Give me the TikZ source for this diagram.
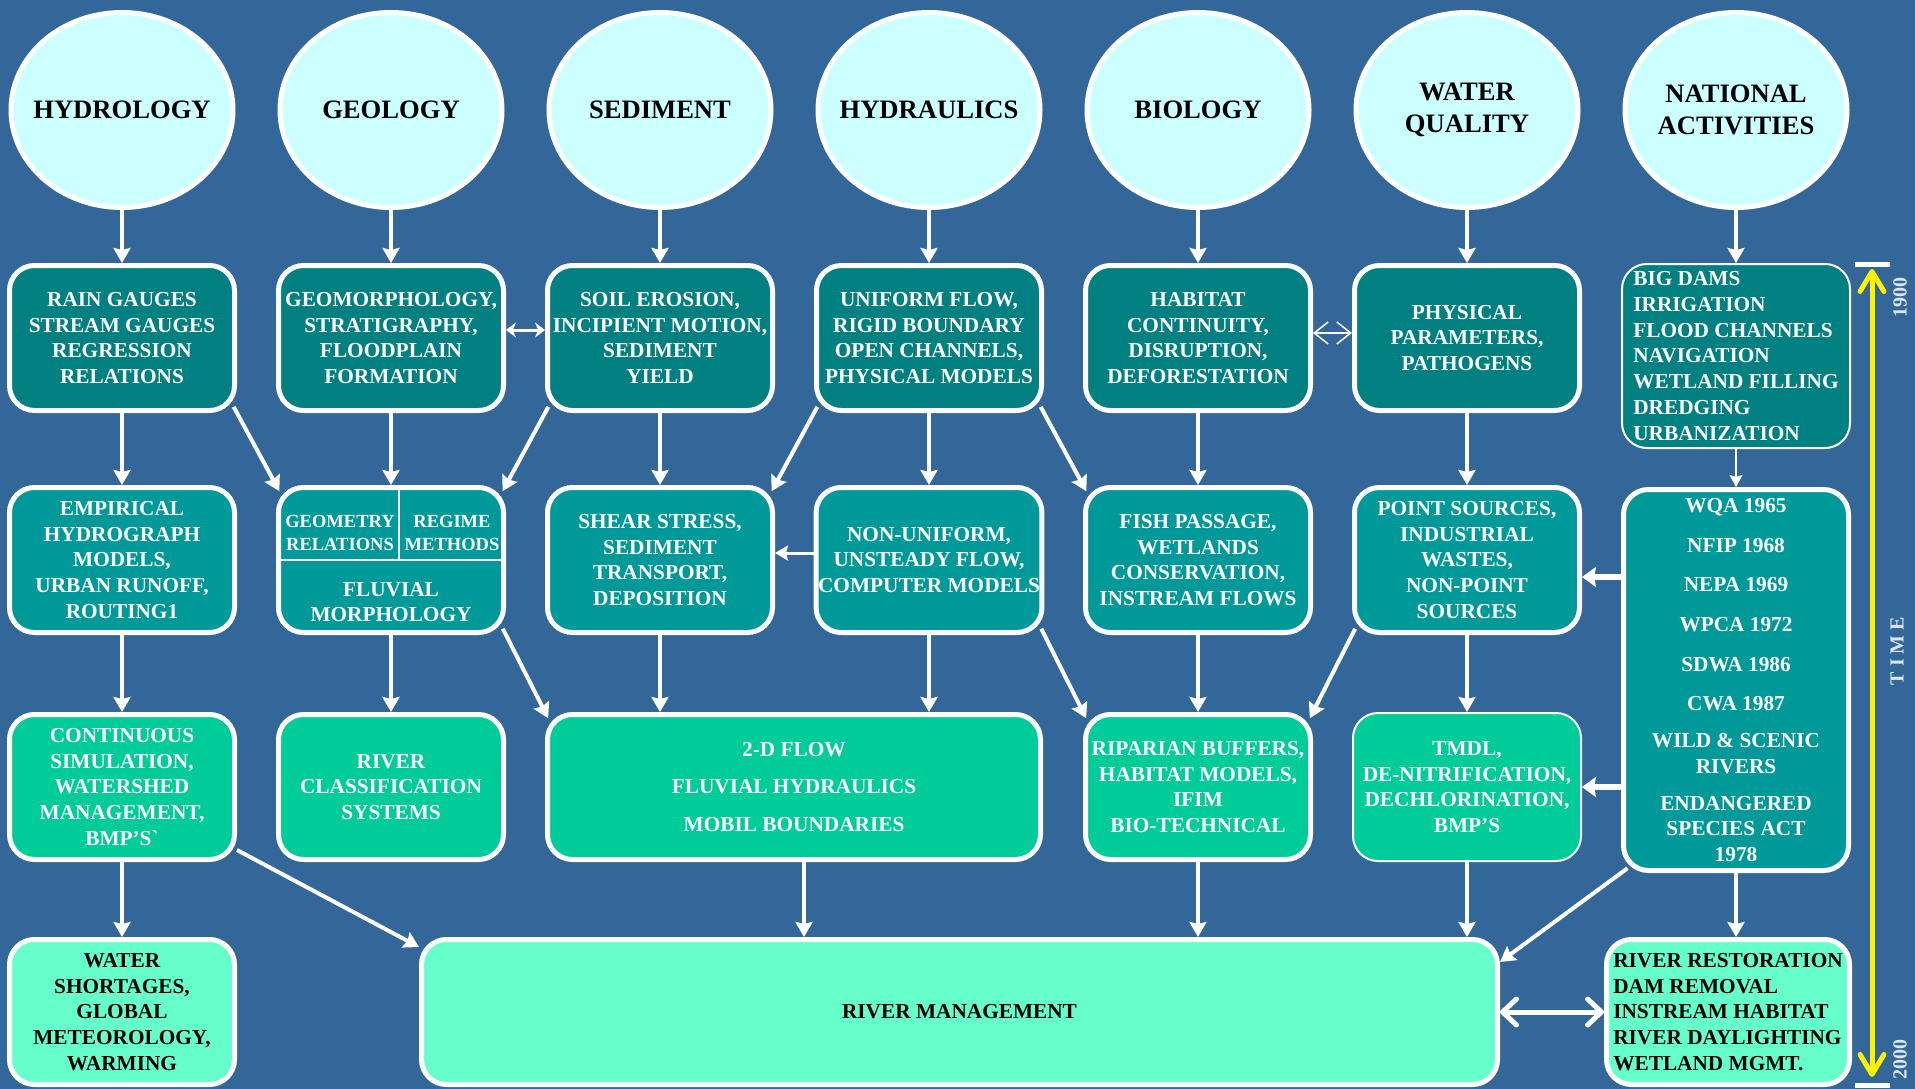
\documentclass[tikz,border=0pt]{standalone}
\usepackage{fontspec}
\setmainfont{Liberation Serif}
\usepackage{tikz}
\usetikzlibrary{positioning,arrows.meta,calc,shapes.geometric}
\definecolor{bgblue}{HTML}{336699}
\definecolor{lcyan}{HTML}{CCFFFF}
\definecolor{tealA}{HTML}{008080}
\definecolor{tealB}{HTML}{009999}
\definecolor{greenC}{HTML}{00CC99}
\definecolor{mintD}{HTML}{66FFCC}
\definecolor{paleblue}{HTML}{DCE6F2}

\begin{document}
\begin{tikzpicture}[x=1pt,y=-1pt,font=\bfseries\fontsize{21.3}{25.7}\selectfont,
  disc/.style={ellipse,draw=white,line width=5pt,fill=lcyan,minimum width=222pt,minimum height=195pt,inner xsep=-40pt,inner ysep=0pt,align=center,font=\bfseries\fontsize{26.6}{31.7}\selectfont},
  bx/.style={draw=white,line width=5pt,rounded corners=25pt,align=center,minimum width=225pt,minimum height=145pt,inner sep=2pt,text=white},
  b1/.style={bx,fill=tealA},
  b2/.style={bx,fill=tealB},
  b3/.style={bx,fill=greenC},
  b4/.style={bx,fill=mintD,text=black},
  ar/.style={draw=white,line width=4pt,-{Stealth[length=15pt,width=17pt,inset=2pt]}},
  dg/.style={ar,shorten <=-7pt,shorten >=-7pt},
  thar/.style={draw=white,line width=2pt,-{Stealth[length=12pt,width=13pt,inset=2pt]}},
  mdar/.style={draw=white,line width=3pt,-{Stealth[length=13pt,width=15pt,inset=2pt]}},
  fatar/.style={draw=white,line width=6pt,-{Stealth[length=14pt,width=20pt,inset=2pt]}},
  dar/.style={draw=white,line width=3pt,{Stealth[length=10pt,width=15pt]}-{Stealth[length=10pt,width=15pt]}},
  oar/.style={draw=white,line width=1.5pt,{Straight Barb[length=14pt,width=22pt]}-{Straight Barb[length=14pt,width=22pt]}},
  war/.style={draw=white,line width=5pt,{Straight Barb[round,length=14pt,width=26pt]}-{Straight Barb[round,length=14pt,width=26pt]}},
  tar/.style={draw=yellow,line width=5pt,{Straight Barb[round,length=20pt,width=24pt]}-{Straight Barb[round,length=20pt,width=24pt]}},
  cell/.style={text=white,align=center,inner sep=0pt,font=\bfseries\fontsize{18.5}{23}\selectfont},
  tlbl/.style={text=paleblue,rotate=90,inner sep=0pt,font=\bfseries\fontsize{20}{22}\selectfont}]
  \fill[bgblue] (0,0) rectangle (1915,1089);
  \useasboundingbox (0,0) rectangle (1915,1089);
  \node[disc] (hyd) at (122,110) {HYDROLOGY};
  \node[disc,right=42pt of hyd] (geo) {GEOLOGY};
  \node[disc,right=42pt of geo] (sed) {SEDIMENT};
  \node[disc,right=42pt of sed] (hdr) {HYDRAULICS};
  \node[disc,right=42pt of hdr] (bio) {BIOLOGY};
  \node[disc,right=42pt of bio] (wq) {WATER\\QUALITY};
  \node[disc,right=42pt of wq] (nat) {NATIONAL\\ACTIVITIES};
  \node[b1,below=53pt of hyd] (rain) {RAIN GAUGES\\STREAM GAUGES\\REGRESSION\\RELATIONS};
  \node[b1,below=53pt of geo] (geom) {GEOMORPHOLOGY,\\STRATIGRAPHY,\\FLOODPLAIN\\FORMATION};
  \node[b1,below=53pt of sed] (soil) {SOIL EROSION,\\INCIPIENT MOTION,\\SEDIMENT\\YIELD};
  \node[b1,below=53pt of hdr] (unif) {UNIFORM FLOW,\\RIGID BOUNDARY\\OPEN CHANNELS,\\PHYSICAL MODELS};
  \node[b1,below=53pt of bio] (habitat) {HABITAT\\CONTINUITY,\\DISRUPTION,\\DEFORESTATION};
  \node[b1,below=53pt of wq] (phys) {PHYSICAL\\PARAMETERS,\\PATHOGENS};
  \node[b1,below=53pt of nat,line width=2pt,minimum width=228pt,minimum height=184pt,align=left] (dams) {BIG DAMS\\IRRIGATION\\FLOOD CHANNELS\\NAVIGATION\\WETLAND FILLING\\DREDGING\\URBANIZATION};
  \node[b2,below=72pt of rain] (empir) {EMPIRICAL\\HYDROGRAPH\\MODELS,\\URBAN RUNOFF,\\ROUTING1};
  \node[b2,below=72pt of geom] (fluv) {};
  \node[b2,below=72pt of soil] (shear) {SHEAR STRESS,\\SEDIMENT\\TRANSPORT,\\DEPOSITION};
  \node[b2,below=72pt of unif] (nonunif) {NON-UNIFORM,\\UNSTEADY FLOW,\\COMPUTER MODELS};
  \node[b2,below=72pt of habitat] (fish) {FISH PASSAGE,\\WETLANDS\\CONSERVATION,\\INSTREAM FLOWS};
  \node[b2,below=72pt of phys] (point) {POINT SOURCES,\\INDUSTRIAL\\WASTES,\\NON-POINT\\SOURCES};
  \node[b2,below=38pt of dams,minimum height=381pt] (acts) {WQA 1965\\[14pt]NFIP 1968\\[14pt]NEPA 1969\\[14pt]WPCA 1972\\[14pt]SDWA 1986\\[14pt]CWA 1987\\[11pt]WILD \& SCENIC\\RIVERS\\[11pt]ENDANGERED\\SPECIES ACT\\1978};
  \draw[white,line width=1.5pt] (fluv.west) -- (fluv.east);
  \draw[white,line width=1.5pt] ([xshift=8pt]fluv.north) -- ([xshift=8pt]fluv.center);
  \node[cell] (georel) at ($(fluv.center)+(-51,-27)$) {GEOMETRY\\RELATIONS};
  \node[cell] (regime) at ($(fluv.center)+(61,-27)$) {REGIME\\METHODS};
  \node[text=white,align=center,inner sep=0pt] (fluvmor) at ($(fluv.center)+(0,42)$) {FLUVIAL\\MORPHOLOGY};
  \node[b3,below=77pt of empir] (contsim) {CONTINUOUS\\SIMULATION,\\WATERSHED\\MANAGEMENT,\\BMP’S\textasciigrave};
  \node[b3,below=77pt of fluv] (classif) {RIVER\\CLASSIFICATION\\SYSTEMS};
  \node[b3,right=39pt of classif,minimum width=493pt] (flow) {2-D FLOW\\[12pt]FLUVIAL HYDRAULICS\\[12pt]MOBIL BOUNDARIES};
  \node[b3,below=77pt of fish] (ripar) {RIPARIAN BUFFERS,\\HABITAT MODELS,\\IFIM\\BIO-TECHNICAL};
  \node[b3,below=77pt of point,line width=2pt,minimum width=228pt,minimum height=148pt] (tmdl) {TMDL,\\DE-NITRIFICATION,\\DECHLORINATION,\\BMP’S};
  \node[b4,below=75pt of contsim] (short) {WATER\\SHORTAGES,\\GLOBAL\\METEOROLOGY,\\WARMING};
  \node[b4,right=182pt of short,minimum width=1076pt] (mgmt) {RIVER MANAGEMENT};
  \node[b4,right=104pt of mgmt,minimum width=243pt,align=left] (restor) {RIVER RESTORATION\\DAM REMOVAL\\INSTREAM HABITAT\\RIVER DAYLIGHTING\\WETLAND MGMT.};
  \draw[ar] (hyd) -- (rain);
  \draw[ar] (geo) -- (geom);
  \draw[ar] (sed) -- (soil);
  \draw[ar] (hdr) -- (unif);
  \draw[ar] (bio) -- (habitat);
  \draw[ar] (wq) -- (phys);
  \draw[ar] (nat) -- (dams);
  \draw[ar] (rain) -- (empir);
  \draw[ar] (geom) -- (fluv);
  \draw[ar] (soil) -- (shear);
  \draw[ar] (unif) -- (nonunif);
  \draw[ar] (habitat) -- (fish);
  \draw[ar] (phys) -- (point);
  \draw[thar] (dams) -- (acts);
  \draw[dg] (rain.south east) -- (fluv.north west);
  \draw[dg] (soil.south west) -- (fluv.north east);
  \draw[dg] (unif.south west) -- (shear.north east);
  \draw[dg] (unif.south east) -- (fish.north west);
  \draw[dar] ([yshift=8pt]geom.east) -- ([yshift=8pt]soil.west);
  \draw[oar] ([yshift=5pt]habitat.east) -- ([yshift=5pt]phys.west);
  \draw[mdar] ([yshift=7pt]nonunif.west) -- ([yshift=7pt]shear.east);
  \draw[fatar] ([yshift=-17pt]point.east -| acts.west) -- ([yshift=-17pt]point.east);
  \draw[fatar] (tmdl.east -| acts.west) -- (tmdl.east);
  \draw[ar] (empir) -- (contsim);
  \draw[ar] (fluv) -- (classif);
  \draw[dg] (fluv.south east) -- (flow.north west);
  \draw[ar] (shear) -- (shear |- flow.north);
  \draw[ar] (nonunif) -- (nonunif |- flow.north);
  \draw[dg] (nonunif.south east) -- (ripar.north west);
  \draw[ar] (fish) -- (ripar);
  \draw[dg] (point.south west) -- (ripar.north east);
  \draw[ar] (point) -- (tmdl);
  \draw[ar] (contsim) -- (short);
  \draw[ar] ([yshift=12pt]contsim.south east) -- ([yshift=-10pt]mgmt.north west);
  \draw[ar] ([xshift=10pt]flow.south) -- ([xshift=10pt]flow.south |- mgmt.north);
  \draw[ar] (ripar) -- (ripar |- mgmt.north);
  \draw[ar] (tmdl) -- (tmdl |- mgmt.north);
  \draw[ar,shorten <=-8pt] (acts.south west) -- ([yshift=-25pt]mgmt.north east);
  \draw[ar] (acts) -- (acts |- restor.north);
  \draw[war] (mgmt) -- (restor);
  \coordinate (t0) at (1872,264);
  \coordinate (t1) at (1872,1085);
  \draw[white,line width=5pt] ([xshift=-17pt]t0) -- ([xshift=18pt]t0);
  \draw[white,line width=5pt] ([xshift=-17pt]t1) -- ([xshift=18pt]t1);
  \draw[tar] ([yshift=-5pt]t0) -- ([yshift=8pt]t1);
  \node[tlbl] (y1900) at (1900,297) {1900};
  \node[tlbl] (y2000) at (1900,1059) {2000};
  \node[tlbl] (tm) at (1897,651) {T I M E};
\end{tikzpicture}
\end{document}
